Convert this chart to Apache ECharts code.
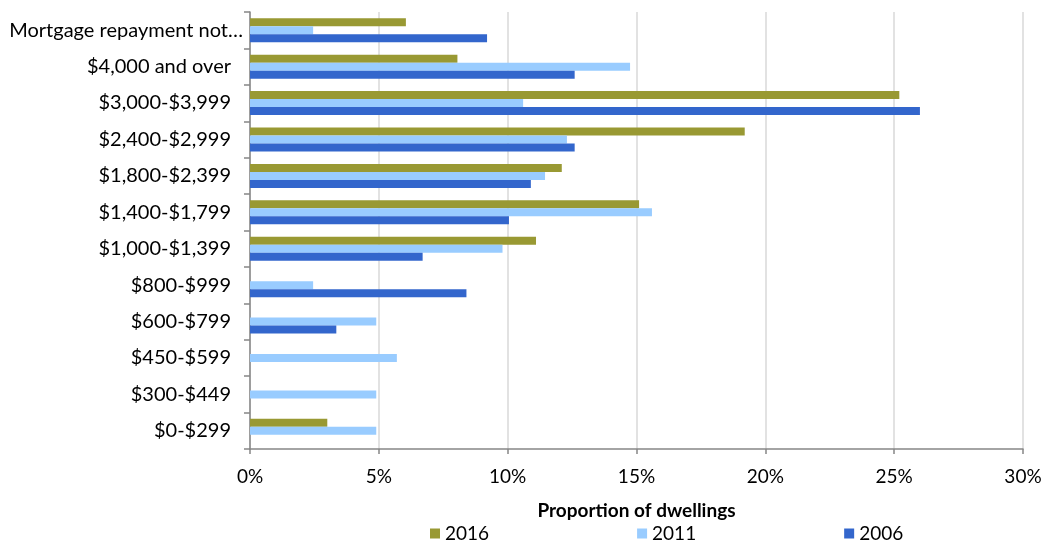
<!DOCTYPE html>
<html>
<head>
<meta charset="utf-8">
<script src="https://cdn.jsdelivr.net/npm/echarts@6/dist/echarts.min.js"></script>
<style>
  html, body { margin: 0; padding: 0; background: #ffffff; }
  #chart { width: 1045px; height: 544px; }
</style>
</head>
<body>
<div id="chart"></div>
<script>
// Monthly mortgage repayment bands, listed top to bottom
const categories = [
  'Mortgage repayment not…',
  '$4,000 and over',
  '$3,000-$3,999',
  '$2,400-$2,999',
  '$1,800-$2,399',
  '$1,400-$1,799',
  '$1,000-$1,399',
  '$800-$999',
  '$600-$799',
  '$450-$599',
  '$300-$449',
  '$0-$299'
];

// Proportion of dwellings (%) per census year
const values2016 = [6.05, 8.05, 25.2, 19.2, 12.1, 15.1, 11.1, 0, 0, 0, 0, 3.0];
const values2011 = [2.45, 14.75, 10.6, 12.3, 11.45, 15.6, 9.8, 2.45, 4.9, 5.7, 4.9, 4.9];
const values2006 = [9.2, 12.6, 26.0, 12.6, 10.9, 10.05, 6.7, 8.4, 3.35, 0, 0, 0];

const xTicks = { min: 0, max: 30, interval: 5 };

const FONT = 'Lato';

// The truncated first label runs closer to the axis than the others
const categoryData = categories.map(function (name, i) {
  return i === 0
    ? { value: name }
    : { value: name, textStyle: { padding: [0, 12, 0, 0] } };
});

const chart = echarts.init(document.getElementById('chart'));

function barSeries(name, data, color) {
  return {
    name: name,
    type: 'bar',
    data: data,
    barWidth: 8,
    barGap: '0%',
    itemStyle: { color: color },
    emphasis: { disabled: true },
    animation: false
  };
}

chart.setOption({
  animation: false,
  textStyle: { fontFamily: FONT },
  grid: { left: 250, right: 22, top: 12, bottom: 95, containLabel: false },
  legend: {
    data: ['2016', '2011', '2006'],
    top: 519,
    left: 425,
    padding: 5,
    itemWidth: 10,
    itemHeight: 10,
    itemGap: 148,
    icon: 'rect',
    textStyle: { fontFamily: FONT, fontSize: 19, color: '#000' },
    selectedMode: false
  },
  xAxis: {
    type: 'value',
    min: xTicks.min,
    max: xTicks.max,
    interval: xTicks.interval,
    name: 'Proportion of dwellings',
    nameLocation: 'middle',
    nameGap: 52,
    nameTextStyle: { fontFamily: FONT, fontSize: 19, fontWeight: 'bold', color: '#000' },
    axisLine: { show: true, lineStyle: { color: '#868686', width: 1.5 } },
    axisTick: { show: true, length: 5, lineStyle: { color: '#868686', width: 1.5 } },
    axisLabel: { formatter: '{value}%', fontFamily: FONT, fontSize: 19, color: '#000', margin: 18 },
    splitLine: { show: true, lineStyle: { color: '#d9d9d9', width: 1.5 } }
  },
  yAxis: {
    type: 'category',
    data: categoryData,
    inverse: true,
    axisLine: { show: true, lineStyle: { color: '#868686', width: 1.5 } },
    axisTick: { show: true, length: 6, lineStyle: { color: '#868686', width: 1.5 } },
    axisLabel: { fontFamily: FONT, fontSize: 20, color: '#000', margin: 7 },
    splitLine: { show: false }
  },
  series: [
    barSeries('2016', values2016, '#999933'),
    barSeries('2011', values2011, '#99ccff'),
    barSeries('2006', values2006, '#3366cc')
  ]
});
</script>
</body>
</html>
